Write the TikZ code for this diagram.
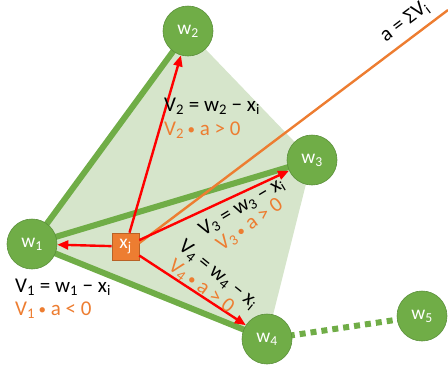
\documentclass[tikz,border=0pt]{standalone}
\usepackage{fontspec}
\setmainfont{Carlito}
\usetikzlibrary{arrows.meta,backgrounds}
\definecolor{gr}{HTML}{70AD47}
\definecolor{grd}{HTML}{5A8F3A}
\definecolor{lgr}{RGB}{214,229,203}
\definecolor{org}{HTML}{ED7D31}
\definecolor{orgd}{HTML}{B86226}
\newcommand{\dotop}{\,{\fontsize{15}{15}\selectfont\raisebox{0.5pt}{•}}\ }
\tikzset{
  wnode/.style={circle, minimum size=50pt, inner sep=0pt, fill=gr, draw=grd, line width=0.6pt, text=white, font=\fontsize{19.5}{22}\selectfont},
  xnode/.style={rectangle, minimum size=27pt, inner sep=0pt, fill=org, draw=orgd, line width=0.6pt, text=white, font=\fontsize{19.5}{22}\selectfont},
  edge/.style={gr, line width=6pt},
  dotedge/.style={gr, line width=6pt, dash pattern=on 6pt off 5pt},
  vec/.style={red, line width=2.4pt, -{Triangle[length=11pt,width=9pt]}},
  lbl/.style={font=\fontsize{21}{24}\selectfont, inner sep=0pt},
}
\begin{document}
\begin{tikzpicture}[x=1pt,y=-1pt]
\useasboundingbox (0,0) rectangle (448,365);
\node[wnode] (w1) at (32,244) {w\textsubscript{1}};
\node[wnode] (w2) at (188,31) {w\textsubscript{2}};
\node[wnode] (w3) at (312,160) {w\textsubscript{3}};
\node[wnode] (w4) at (267,339) {w\textsubscript{4}};
\node[wnode] (w5) at (422,316) {w\textsubscript{5}};
\node[xnode] (xj) at (125.5,246.5) {x\textsubscript{j}};
\coordinate (aend) at (448,10);
\begin{scope}[on background layer]
  \fill[lgr] (w1.center) -- (w2.center) -- (w3.center) -- (w4.center) -- cycle;
  \draw[edge] (w1.center) -- (w2.center);
  \draw[edge] (w1.center) -- (w3.center);
  \draw[edge] (w1.center) -- (w4.center);
  \draw[dotedge] (w4.center) -- (w5.center);
\end{scope}
\draw[org, line width=2.4pt] ([yshift=3.5pt]xj.east) -- (aend);
\draw[vec] (xj) -- (w1);
\draw[vec] (xj) -- (w2);
\draw[vec] (xj) -- (w3);
\draw[vec] (xj) -- (w4);
\node[lbl, rotate=37] (alab) at (405,22) {a = ΣV\textsubscript{i}};
\node[lbl, anchor=west] (t2a) at (164,106) {V\textsubscript{2} = w\textsubscript{2} − x\textsubscript{i}};
\node[lbl, anchor=west, text=org] (t2b) at (164,130) {V\textsubscript{2}\dotop a > 0};
\node[lbl, anchor=west] (t1a) at (15,287) {V\textsubscript{1} = w\textsubscript{1} − x\textsubscript{i}};
\node[lbl, anchor=west, text=org] (t1b) at (15,310) {V\textsubscript{1}\dotop a < 0};
\node[lbl, rotate=31] (t3a) at (242,207) {V\textsubscript{3} = w\textsubscript{3} − x\textsubscript{i}};
\node[lbl, rotate=35, text=org] (t3b) at (250,225) {V\textsubscript{3}\dotop a > 0};
\node[lbl, rotate=-39] (t4a) at (218,275) {V\textsubscript{4} = w\textsubscript{4} − x\textsubscript{i}};
\node[lbl, rotate=-37, text=org] (t4b) at (201,287) {V\textsubscript{4}\dotop a > 0};
\end{tikzpicture}
\end{document}
